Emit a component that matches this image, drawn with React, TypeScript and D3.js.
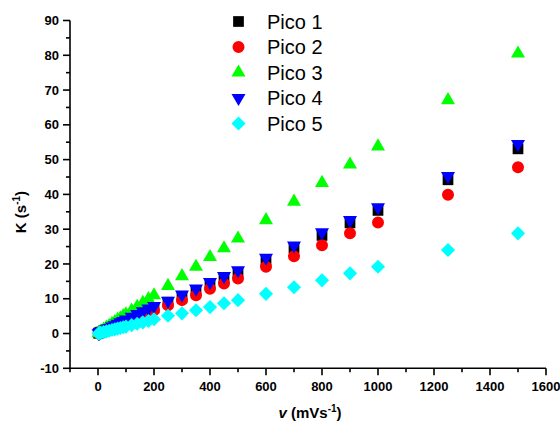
import React from "react";
import * as d3 from "d3";

const vValues = [2, 5, 10, 20, 30, 40, 50, 60, 70, 80, 90, 100, 120, 140, 160, 180, 200, 250, 300, 350, 400, 450, 500, 600, 700, 800, 900, 1000, 1250, 1500];
const pico1 = [0.1, 0.2, 0.4, 0.8, 1.2, 1.5, 1.9, 2.3, 2.7, 3.0, 3.4, 3.8, 4.5, 5.2, 6.0, 6.7, 7.4, 9.0, 10.7, 12.4, 14.2, 16.0, 17.6, 20.8, 24.6, 28.2, 31.8, 35.4, 44.2, 53.1];
const pico2 = [0.1, 0.2, 0.3, 0.7, 1.0, 1.3, 1.7, 2.0, 2.3, 2.7, 3.0, 3.3, 4.0, 4.6, 5.3, 6.0, 6.7, 8.1, 9.6, 11.0, 12.9, 14.4, 15.8, 19.2, 22.2, 25.4, 28.8, 31.9, 39.9, 47.8];
const pico3 = [0.1, 0.3, 0.6, 1.1, 1.7, 2.2, 2.8, 3.3, 3.9, 4.4, 5.0, 5.5, 6.6, 7.7, 8.8, 9.9, 11.0, 13.7, 16.5, 19.2, 22.0, 24.5, 27.3, 32.6, 37.9, 43.3, 48.6, 53.8, 67.1, 80.5];
const pico4 = [0.1, 0.2, 0.4, 0.8, 1.2, 1.6, 2.0, 2.4, 2.8, 3.2, 3.6, 4.0, 4.8, 5.6, 6.4, 7.2, 7.9, 9.4, 11.2, 12.9, 14.8, 16.5, 18.2, 21.8, 25.3, 29.1, 32.6, 36.3, 45.3, 54.5];
const pico5 = [0.0, 0.1, 0.2, 0.4, 0.6, 0.8, 1.0, 1.2, 1.4, 1.6, 1.8, 2.0, 2.4, 2.8, 3.2, 3.6, 4.1, 5.1, 5.8, 6.7, 7.6, 8.7, 9.6, 11.4, 13.3, 15.3, 17.3, 19.2, 24.0, 28.8];

const seriesNames = ["Pico 1", "Pico 2", "Pico 3", "Pico 4", "Pico 5"];
const seriesColors = ["#000000", "#ff0000", "#00ff00", "#0000ff", "#00ffff"];
const seriesData = [pico1, pico2, pico3, pico4, pico5];

const xTicks = [0, 200, 400, 600, 800, 1000, 1200, 1400, 1600];
const yTicks = [-10, 0, 10, 20, 30, 40, 50, 60, 70, 80, 90];

const W = 560, H = 423;
const x = d3.scaleLinear().domain([-100, 1600]).range([70, 546]);
const y = d3.scaleLinear().domain([-10, 90]).range([368.3, 20.5]);

const symSquare = d3.symbol().type(d3.symbolSquare).size(115)()!;
const symCircle = d3.symbol().type(d3.symbolCircle).size(113)()!;
const symTri = d3.symbol().type(d3.symbolTriangle).size(85)()!;
const symDiamond = d3.symbol().type(d3.symbolSquare).size(100)()!;

function Marker({ i, cx, cy }: { i: number; cx: number; cy: number }) {
  const fill = seriesColors[i];
  if (i === 0) return <path d={symSquare} transform={`translate(${cx},${cy})`} fill={fill} />;
  if (i === 1) return <path d={symCircle} transform={`translate(${cx},${cy})`} fill={fill} />;
  if (i === 2) return <path d={symTri} transform={`translate(${cx},${cy})`} fill={fill} />;
  if (i === 3) return <path d={symTri} transform={`translate(${cx},${cy}) rotate(180)`} fill={fill} />;
  return <path d={symDiamond} transform={`translate(${cx},${cy}) rotate(45)`} fill={fill} />;
}

export default function App() {
  const x0 = x.range()[0];
  const y0 = y.range()[0];
  const xMinor = d3.range(-100, 1601, 100);
  const yMinor = d3.range(-10, 91, 5);
  return (
    <svg width={W} height={H} style={{ position: "absolute", left: 0, top: 0, background: "#fff" }}
      fontFamily="Arial, 'Liberation Sans', sans-serif">
      <rect x={0} y={0} width={W} height={H} fill="#fff" />
      {/* data */}
      {seriesData.map((arr, si) => (
        <g key={si}>
          {arr.map((v, k) => (
            <Marker key={k} i={si} cx={x(vValues[k])} cy={y(v)} />
          ))}
        </g>
      ))}
      {/* axes */}
      <g stroke="#000" strokeWidth={1.6} fill="none">
        <line x1={x0} x2={x0} y1={y(90)} y2={y0} />
        <line x1={x0} x2={x(1600)} y1={y0} y2={y0} />
        {yMinor.map((t) => {
          const major = t % 10 === 0;
          return <line key={"ym" + t} x1={x0} x2={x0 - (major ? 7 : 4)} y1={y(t)} y2={y(t)} />;
        })}
        {xMinor.map((t) => {
          const major = t % 200 === 0;
          return <line key={"xm" + t} x1={x(t)} x2={x(t)} y1={y0} y2={y0 + (major ? 7 : 4)} />;
        })}
      </g>
      <g fontSize={13} fontWeight="bold" fill="#000">
        {yTicks.map((t) => (
          <text key={"yl" + t} x={x0 - 11} y={y(t)} dy="0.35em" textAnchor="end">{t}</text>
        ))}
        {xTicks.map((t) => (
          <text key={"xl" + t} x={x(t)} y={391} textAnchor="middle">{t}</text>
        ))}
      </g>
      {/* axis titles */}
      <text transform="translate(26,212) rotate(-90)" textAnchor="middle" fontSize={15} fontWeight="bold">
        K (s<tspan dy={-6} fontSize={10}>-1</tspan><tspan dy={6}>)</tspan>
      </text>
      <text x={310} y={418} textAnchor="middle" fontSize={15} fontWeight="bold">
        <tspan fontStyle="italic">v</tspan> (mVs<tspan dy={-6} fontSize={10}>-1</tspan><tspan dy={6}>)</tspan>
      </text>
      {/* legend */}
      {seriesNames.map((n, i) => {
        const cy = 21.5 + i * 25.5;
        return (
          <g key={n}>
            <Marker i={i} cx={238.5} cy={cy} />
            <text x={267} y={cy + 7.3} fontSize={20}>{n}</text>
          </g>
        );
      })}
    </svg>
  );
}
